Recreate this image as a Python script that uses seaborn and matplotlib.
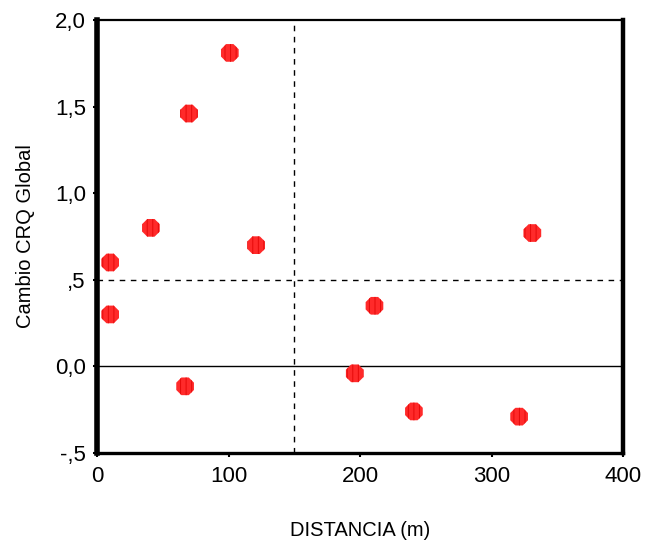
import matplotlib
matplotlib.use("Agg")
import matplotlib.pyplot as plt
import seaborn as sns
import pandas as pd

# Distance to the site (m) and change in the global CRQ score
distancia = [10, 10, 41, 70, 101, 121, 67, 196, 211, 241, 321, 331]
cambio_crq = [0.60, 0.30, 0.80, 1.46, 1.81, 0.70, -0.115, -0.04, 0.35, -0.26, -0.29, 0.77]

x_ticks = [0, 100, 200, 300, 400]
y_ticks = [-0.5, 0.0, 0.5, 1.0, 1.5, 2.0]
y_tick_labels = ["-,5", "0,0", ",5", "1,0", "1,5", "2,0"]

df = pd.DataFrame({"DISTANCIA (m)": distancia, "Cambio CRQ Global": cambio_crq})

sns.set_style("white")
plt.rcParams["font.family"] = ["Liberation Sans", "DejaVu Sans"]
plt.rcParams["hatch.linewidth"] = 0.7
for key in ("text.color", "axes.labelcolor", "xtick.color", "ytick.color"):
    plt.rcParams[key] = "black"

fig = plt.figure(figsize=(6.47, 5.44), dpi=100)
ax = fig.add_axes([97 / 647, (544 - 453) / 544, 526 / 647, 433 / 544])

# Reference lines: cut-off distance, threshold of change, and zero
ax.axvline(150, color="black", lw=1.0, ls=(0, (4, 4)), zorder=1)
ax.axhline(0.5, color="black", lw=1.0, ls=(0, (4, 4)), zorder=1)
ax.axhline(0.0, color="black", lw=1.0, zorder=1)

sns.scatterplot(
    data=df, x="DISTANCIA (m)", y="Cambio CRQ Global", ax=ax,
    marker="8", s=190, color="#ff2a2a", edgecolor="#e60a0a",
    linewidth=0, hatch="|||", zorder=3,
)

ax.set_xlim(0, 400)
ax.set_ylim(-0.5, 2.0)
ax.set_xticks(x_ticks)
ax.set_xticklabels([str(t) for t in x_ticks])
ax.set_yticks(y_ticks)
ax.set_yticklabels(y_tick_labels)
ax.tick_params(axis="both", labelsize=16, length=3, width=1.5, color="black",
               labelcolor="black", direction="out", bottom=True, left=True)
ax.tick_params(axis="x", pad=6)
ax.tick_params(axis="y", pad=5)

ax.set_xlabel("DISTANCIA (m)", fontsize=14.5, labelpad=25)
ax.set_ylabel("Cambio CRQ Global", fontsize=14.5, labelpad=14)

for side, lw in (("left", 4.0), ("bottom", 2.4), ("right", 3.2), ("top", 1.6)):
    ax.spines[side].set_visible(True)
    ax.spines[side].set_color("black")
    ax.spines[side].set_linewidth(lw)

fig.savefig("out.png", dpi=100)
